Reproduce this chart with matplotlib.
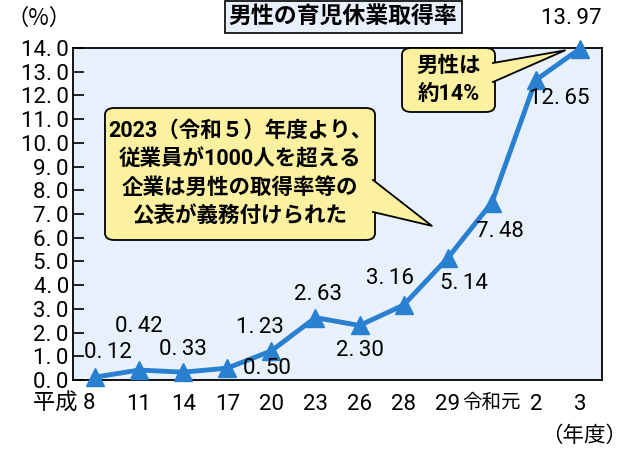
import matplotlib.pyplot as plt
from matplotlib.patches import FancyBboxPatch, Polygon
from matplotlib.transforms import ScaledTranslation

# data
years = ["平成 8", "11", "14", "17", "20", "23", "26", "28", "29", "令和元", "2", "3"]
rates = [0.12, 0.42, 0.33, 0.50, 1.23, 2.63, 2.30, 3.16, 5.14, 7.48, 12.65, 13.97]
label_text = ["0.12", "0.42", "0.33", "0.50", "1.23", "2.63",
              "2.30", "3.16", "5.14", "7.48", "12.65", "13.97"]
yticks = [float(v) for v in range(0, 15)]

fam = ["Roboto", "Noto Sans CJK JP", "DejaVu Sans"]
jp = ["Noto Sans CJK JP", "DejaVu Sans"]
plt.rcParams["font.family"] = fam

blue = "#2a80d0"
yellow = "#fcf1a0"
W, H = 627, 450
NUM = 16


def fx(px):
    return px / W


def fy(py):
    return 1 - py / H


def spaced(s):
    # the reference prints a small gap after the decimal point
    return s.replace(".", ".\u2009")


fig = plt.figure(figsize=(6.27, 4.5), dpi=100)
ax = fig.add_axes([fx(73), fy(380), fx(602) - fx(73), fy(48) - fy(380)])
ax.set_facecolor("#e8f1fb")

x = list(range(len(years)))
ax.plot(x, rates, color=blue, lw=3.5, marker="^", ms=13,
        mfc=blue, mec=blue, clip_on=False, zorder=3)

ax.set_xlim(-0.5, len(years) - 0.5)
ax.set_ylim(0, 14)
ax.set_yticks(yticks)
ax.set_yticklabels([spaced(f"{v:.1f}") for v in yticks], fontsize=NUM)
ax.set_xticks(x)
ax.set_xticklabels(years, fontsize=NUM)
for lab in ax.get_xticklabels():
    if lab.get_text() == "令和元":
        lab.set_fontsize(14)
first = ax.get_xticklabels()[0]
first.set_ha("right")
first.set_transform(first.get_transform() + ScaledTranslation(6 / 72, 0, fig.dpi_scale_trans))
ax.tick_params(axis="y", direction="in", length=8, width=1.2, pad=3)
ax.tick_params(axis="x", length=0, pad=10)
for s in ax.spines.values():
    s.set_linewidth(1.3)

# data labels (offsets in points)
offsets = [(9, 18, "center"), (0, 31, "center"), (0, 16, "center"), (11, 0, "left"),
           (-8, 17, "center"), (2, 17, "center"), (0, -18, "center"), (-10, 19, "center"),
           (12, -18, "center"), (6, -21, "center"), (17, -13, "center"), (-6, 22, "center")]
for xi, yi, t, (dx, dy, ha) in zip(x, rates, label_text, offsets):
    ax.annotate(spaced(t), (xi, yi), xytext=(dx, dy), textcoords="offset points",
                ha=ha, va="center", fontsize=NUM, annotation_clip=False, zorder=5)

# title and units
fig.text(fx(343), fy(17), "男性の育児休業取得率", ha="center", va="center",
         fontsize=16.5, fontweight="bold", family=jp,
         bbox=dict(boxstyle="square,pad=0.18", fc="#e8f1fb", ec="black", lw=1.2))
fig.text(fx(6), fy(18), "（%）", ha="left", va="center", fontsize=16, family=jp)
fig.text(fx(627), fy(436), "（年度）", ha="right", va="center", fontsize=15.5, family=jp)


def callout(x0, y0, x1, y1, base, tip, text):
    # box in pixel layout, pointer tip taken from data coordinates
    box = FancyBboxPatch((fx(x0), fy(y1)), fx(x1) - fx(x0), fy(y0) - fy(y1),
                         boxstyle="round,pad=0,rounding_size=0.015",
                         transform=fig.transFigure, fc=yellow, ec="black",
                         lw=1.3, zorder=6)
    fig.add_artist(box)
    tip_fig = fig.transFigure.inverted().transform(ax.transData.transform(tip))
    b1 = (fx(base[0][0]), fy(base[0][1]))
    b2 = (fx(base[1][0]), fy(base[1][1]))
    fig.add_artist(Polygon([b1, tuple(tip_fig), b2], closed=True,
                           transform=fig.transFigure, fc=yellow, ec="none", zorder=7))
    fig.add_artist(plt.Line2D([b1[0], tip_fig[0], b2[0]], [b1[1], tip_fig[1], b2[1]],
                              transform=fig.transFigure, color="black", lw=1.3, zorder=7))
    fig.text(fx((x0 + x1) / 2), fy((y0 + y1) / 2), text, ha="center", va="center",
             fontsize=15.5, fontweight="bold", family=fam, linespacing=1.4, zorder=8)


callout(105, 108, 375, 240, [(373, 180), (373, 212)], (7.64, 6.5),
        "2023（令和５）年度より、\n従業員が1000人を超える\n企業は男性の取得率等の\n公表が義務付けられた")
callout(402, 48, 495, 112, [(493, 63), (493, 82)], (10.66, 13.9),
        "男性は\n約14%")

fig.savefig("out.png", dpi=100)
